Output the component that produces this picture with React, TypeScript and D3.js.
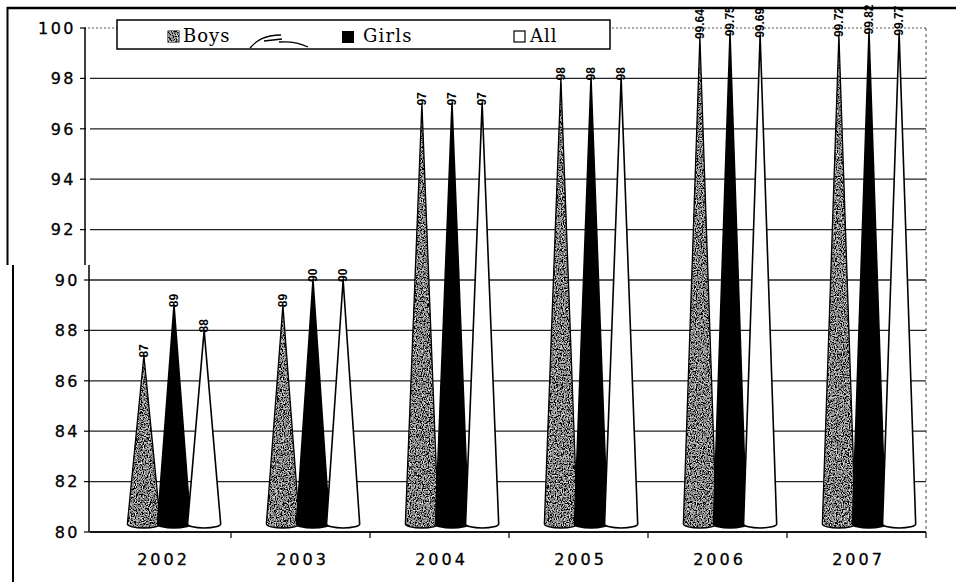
import React from "react";
import * as d3 from "d3";

const years = ["2002", "2003", "2004", "2005", "2006", "2007"];
const series = ["Boys", "Girls", "All"];
const boys = [87, 89, 97, 98, 99.64, 99.72];
const girls = [89, 90, 97, 98, 99.75, 99.82];
const all = [88, 90, 97, 98, 99.69, 99.77];
const valueLabels = [
  ["87", "89", "88"],
  ["89", "90", "90"],
  ["97", "97", "97"],
  ["98", "98", "98"],
  ["99.64", "99.75", "99.69"],
  ["99.72", "99.82", "99.77"],
];
const yTicks = [80, 82, 84, 86, 88, 90, 92, 94, 96, 98, 100];

const W = 956;
const H = 582;
const plot = { left: 90, right: 926, top: 28, bottom: 532 };

export default function App() {
  const x = d3.scaleBand<string>().domain(years).range([plot.left + 2, plot.right]).paddingInner(0).paddingOuter(0);
  const bw = x.bandwidth();
  const x1 = d3.scaleBand<string>().domain(series).range([bw * 0.265, bw * 0.915]);
  const y = d3.scaleLinear().domain([80, 100]).range([plot.bottom, plot.top]);
  const dataBySeries = [boys, girls, all];

  const coneW = x1.bandwidth() + 3;
  const ry = 4;
  const yBase = y(80) - 4;
  const conePath = (cx: number, v: number) => {
    const top = y(v);
    const l = cx - coneW / 2;
    const r = cx + coneW / 2;
    return `M${l},${yBase - ry} L${cx},${top} L${r},${yBase - ry} A${coneW / 2},${ry} 0 0 1 ${l},${yBase - ry} Z`;
  };

  const fills = ["#808080", "#000", "#fff"];

  return (
    <svg width={W} height={H} style={{ display: "block", position: "absolute", left: 0, top: 0, background: "#fff" }}>
      <defs>
        <filter id="speckle" x="0" y="0" width="1" height="1">
          <feTurbulence type="fractalNoise" baseFrequency="0.85" numOctaves="2" seed="5" result="n" />
          <feColorMatrix
            in="n"
            type="matrix"
            values="0.33 0.33 0.33 0 0  0.33 0.33 0.33 0 0  0.33 0.33 0.33 0 0  0 0 0 0 1"
            result="g"
          />
          <feComponentTransfer in="g" result="c">
            <feFuncR type="linear" slope="4" intercept="-1.75" />
            <feFuncG type="linear" slope="4" intercept="-1.75" />
            <feFuncB type="linear" slope="4" intercept="-1.75" />
          </feComponentTransfer>
          <feComposite in="c" in2="SourceGraphic" operator="in" />
        </filter>
      </defs>
      <rect x={0} y={0} width={W} height={H} fill="#fff" />

      {/* outer frame (scanned) */}
      <line x1={7} x2={W} y1={8} y2={8} stroke="#000" strokeWidth={2.5} />
      <line x1={7.5} x2={7.5} y1={7} y2={265} stroke="#000" strokeWidth={2} />
      <line x1={13} x2={13} y1={265} y2={H} stroke="#000" strokeWidth={2} />

      {/* gridlines */}
      {yTicks.map((t) => (
        <line
          key={"g" + t}
          x1={t === 100 ? 84 : plot.left}
          x2={plot.right}
          y1={y(t)}
          y2={y(t)}
          stroke={t === 100 ? "#555" : "#222"}
          strokeWidth={t === 100 ? 1 : 1.3}
          strokeDasharray={t === 100 ? "2,2" : undefined}
        />
      ))}
      {/* right dashed border */}
      <line x1={plot.right} x2={plot.right} y1={plot.top} y2={plot.bottom} stroke="#444" strokeWidth={1} strokeDasharray="3,3" />

      {/* y axis */}
      <line x1={85} x2={85} y1={plot.top} y2={265} stroke="#000" strokeWidth={1.5} />
      <line x1={89} x2={89} y1={265} y2={plot.bottom} stroke="#000" strokeWidth={1.5} />
      {yTicks.map((t) => (
        <g key={"yt" + t}>
          <line x1={y(t) < 265 ? 80 : 84} x2={y(t) < 265 ? 86 : 90} y1={y(t)} y2={y(t)} stroke="#000" strokeWidth={1.2} />
          <text
            x={y(t) < 265 ? 76 : 80}
            y={y(t)}
            dy="0.36em"
            textAnchor="end"
            fontFamily="DejaVu Sans"
            fontSize={16}
            letterSpacing={2.5}
            stroke="#000"
            strokeWidth={0.3}
            fill="#000"
          >
            {t}
          </text>
        </g>
      ))}

      {/* x axis */}
      <line x1={plot.left} x2={plot.right} y1={plot.bottom} y2={plot.bottom} stroke="#000" strokeWidth={1.5} />
      {years.map((yr) => (
        <line
          key={"xt" + yr}
          x1={(x(yr) as number) + bw}
          x2={(x(yr) as number) + bw}
          y1={plot.bottom}
          y2={plot.bottom + 6}
          stroke="#000"
          strokeWidth={1.2}
        />
      ))}
      {years.map((yr) => (
        <text
          key={"xl" + yr}
          x={(x(yr) as number) + bw / 2 + 2}
          y={plot.bottom + 33}
          textAnchor="middle"
          fontFamily="DejaVu Sans"
          fontSize={16}
          letterSpacing={3}
          stroke="#000"
          strokeWidth={0.3}
          fill="#000"
        >
          {yr}
        </text>
      ))}

      {/* cones */}
      {years.map((yr, i) => (
        <g key={"c" + yr}>
          {series.map((s, j) => {
            const cx = (x(yr) as number) + (x1(s) as number) + x1.bandwidth() / 2;
            const v = dataBySeries[j][i];
            const d = conePath(cx, v);
            return (
              <g key={s}>
                {j === 0 ? (
                  <>
                    <path d={d} fill="#777" />
                    <path d={d} fill="#777" filter="url(#speckle)" />
                    <path d={d} fill="none" stroke="#000" strokeWidth={1.3} />
                  </>
                ) : (
                  <path d={d} fill={fills[j]} stroke="#000" strokeWidth={1.6} strokeLinejoin="round" />
                )}
              </g>
            );
          })}
        </g>
      ))}

      {/* value labels */}
      {years.map((yr, i) =>
        series.map((s, j) => {
          const cx = (x(yr) as number) + (x1(s) as number) + x1.bandwidth() / 2;
          const v = dataBySeries[j][i];
          return (
            <text
              key={"vl" + yr + s}
              transform={`translate(${cx},${y(v) + 2}) rotate(-90)`}
              dominantBaseline="central"
              textAnchor="start"
              fontFamily="Liberation Sans"
              fontSize={12}
              fontWeight="bold"
              fill="#000"
            >
              {valueLabels[i][j]}
            </text>
          );
        })
      )}

      {/* legend */}
      <rect x={117} y={20} width={493} height={29} fill="#fff" stroke="#000" strokeWidth={1.5} />
      <rect x={168} y={31} width={11} height={11} fill="#777" stroke="#000" strokeWidth={1} />
      <rect x={168} y={31} width={11} height={11} fill="#777" filter="url(#speckle)" />
      <text x={183} y={42} fontFamily="DejaVu Serif" fontSize={18} letterSpacing={1} fill="#000">
        {series[0]}
      </text>
      <path
        d="M250,48 C256,41 264,35 281,35 M264,41 L282,39 M279,42 C292,41 300,43 308,47"
        fill="none"
        stroke="#000"
        strokeWidth={1.3}
      />
      <rect x={342} y={31} width={12} height={12} fill="#000" />
      <text x={363} y={42} fontFamily="DejaVu Serif" fontSize={18} letterSpacing={1.2} fill="#000">
        {series[1]}
      </text>
      <rect x={514} y={31} width={11} height={11} fill="#fff" stroke="#000" strokeWidth={1.2} />
      <text x={530} y={42} fontFamily="DejaVu Serif" fontSize={18} letterSpacing={1} fill="#000">
        {series[2]}
      </text>
    </svg>
  );
}
